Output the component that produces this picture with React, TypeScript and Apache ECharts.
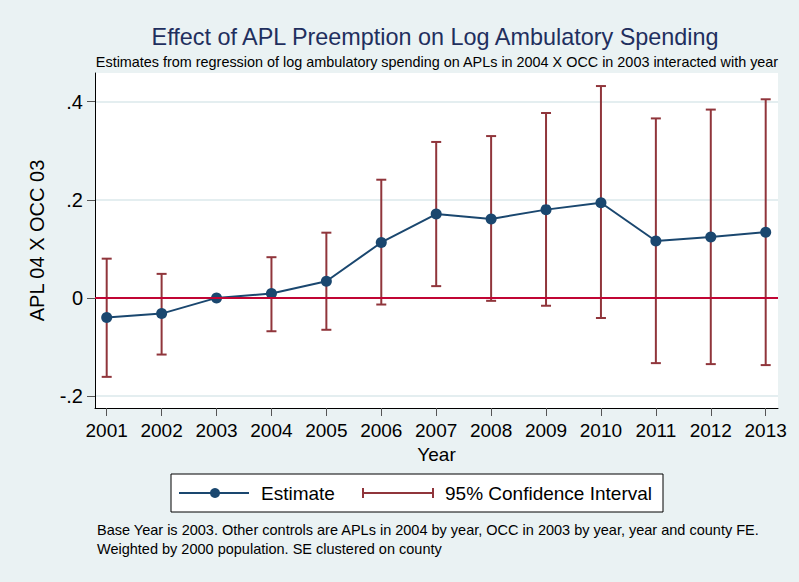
import React, { useEffect, useRef } from "react";
import * as echarts from "echarts";

const years = [2001, 2002, 2003, 2004, 2005, 2006, 2007, 2008, 2009, 2010, 2011, 2012, 2013];
const estimate = [-0.04, -0.032, 0, 0.009, 0.034, 0.113, 0.171, 0.161, 0.18, 0.194, 0.116, 0.124, 0.134];
const ciLow = [-0.161, -0.1155, null, -0.068, -0.065, -0.0135, 0.024, -0.006, -0.016, -0.041, -0.133, -0.135, -0.137];
const ciHigh = [0.08, 0.049, null, 0.083, 0.133, 0.241, 0.318, 0.33, 0.377, 0.432, 0.366, 0.384, 0.405];
const yTicks = [-0.2, 0, 0.2, 0.4];

const FONT = '"Liberation Sans", Arial, sans-serif';
const NAVY = "#1a476f";
const MAROON = "#90353b";
const RED = "#c10534";
const BG = "#eaf2f3";

export default function App() {
  const ref = useRef<HTMLDivElement>(null);
  useEffect(() => {
    if (!ref.current) return;
    const chart = echarts.init(ref.current, null, { renderer: "svg" });
    const ciData = years
      .map((y, i) => [y, ciLow[i], ciHigh[i]])
      .filter((d) => d[1] !== null && d[2] !== null);

    const txt = (text: string, x: number, y: number, size: number, color: string, align = "left", extra: any = {}) => ({
      type: "text",
      x,
      y,
      silent: true,
      ...extra,
      style: {
        text,
        fill: color,
        fontSize: size,
        fontFamily: FONT,
        align,
        textAlign: align,
        verticalAlign: "middle",
        textVerticalAlign: "middle",
      },
    });

    chart.setOption({
      animation: false,
      backgroundColor: BG,
      grid: {
        left: 95,
        right: 21,
        top: 73,
        bottom: 174,
        show: true,
        backgroundColor: "#ffffff",
        borderWidth: 0,
      },
      xAxis: {
        type: "value",
        min: 2000.787,
        max: 2013.224,
        name: "Year",
        nameLocation: "middle",
        nameGap: 31,
        nameTextStyle: { fontSize: 19, color: "#000", fontFamily: FONT },
        axisLine: { show: true, onZero: false, lineStyle: { color: "#000", width: 1 } },
        axisTick: { show: true, length: 8, customValues: years, lineStyle: { color: "#555", width: 1 } },
        axisLabel: { customValues: years, margin: 13, fontSize: 19, color: "#000", fontFamily: FONT, formatter: (v: number) => String(v) },
        splitLine: { show: false },
      },
      yAxis: {
        type: "value",
        min: -0.2245,
        max: 0.4586,
        name: "APL 04 X OCC 03",
        nameLocation: "middle",
        nameGap: 48,
        nameTextStyle: { fontSize: 20, color: "#000", fontFamily: FONT },
        axisLine: { show: true, lineStyle: { color: "#000", width: 1 } },
        axisTick: { show: true, length: 8, customValues: yTicks, lineStyle: { color: "#555", width: 1 } },
        axisLabel: {
          customValues: yTicks,
          margin: 12,
          fontSize: 20,
          color: "#000",
          fontFamily: FONT,
          formatter: (v: number) => {
            if (Math.abs(v) < 1e-9) return "0";
            const s = String(Math.round(Math.abs(v) * 10) / 10).replace(/^0/, "");
            return (v < 0 ? "-" : "") + s;
          },
        },
        splitLine: { show: true, lineStyle: { color: "#e4eef0", width: 2 } },
      },
      series: [
        {
          type: "custom",
          name: "95% Confidence Interval",
          z: 2,
          encode: { x: 0, y: [1, 2] },
          data: ciData,
          renderItem: (params: any, api: any) => {
            const x = api.value(0);
            const lo = api.coord([x, api.value(1)]);
            const hi = api.coord([x, api.value(2)]);
            const half = 5;
            const st = { stroke: MAROON, lineWidth: 2 };
            return {
              type: "group",
              children: [
                { type: "line", shape: { x1: lo[0], y1: lo[1], x2: hi[0], y2: hi[1] }, style: st },
                { type: "line", shape: { x1: lo[0] - half, y1: lo[1], x2: lo[0] + half, y2: lo[1] }, style: st },
                { type: "line", shape: { x1: hi[0] - half, y1: hi[1], x2: hi[0] + half, y2: hi[1] }, style: st },
              ],
            };
          },
        },
        {
          type: "line",
          name: "zero",
          z: 3,
          data: [],
          markLine: {
            silent: true,
            symbol: "none",
            label: { show: false },
            lineStyle: { color: RED, width: 2, type: "solid" },
            data: [{ yAxis: 0 }],
          },
        },
        {
          type: "line",
          name: "Estimate",
          z: 4,
          data: years.map((y, i) => [y, estimate[i]]),
          symbol: "circle",
          symbolSize: 11,
          showSymbol: true,
          lineStyle: { color: NAVY, width: 2 },
          itemStyle: { color: NAVY },
        },
      ],
      graphic: [
        txt("Effect of APL Preemption on Log Ambulatory Spending", 435, 37, 23.4, "#1f2f5e", "center"),
        txt("Estimates from regression of log ambulatory spending on APLs in 2004 X OCC in 2003 interacted with year", 437, 62, 14.4, "#000", "center"),
        {
          type: "rect",
          shape: { x: 171, y: 474, width: 492, height: 38 },
          style: { fill: "#ffffff", stroke: "#000", lineWidth: 1 },
          silent: true,
        },
        { type: "line", shape: { x1: 179, y1: 493, x2: 249, y2: 493 }, style: { stroke: NAVY, lineWidth: 2 }, silent: true },
        { type: "circle", shape: { cx: 215, cy: 493, r: 5 }, style: { fill: NAVY }, silent: true },
        txt("Estimate", 261, 493, 19, "#000"),
        { type: "line", shape: { x1: 363, y1: 493, x2: 433, y2: 493 }, style: { stroke: MAROON, lineWidth: 2 }, silent: true },
        { type: "line", shape: { x1: 363, y1: 488, x2: 363, y2: 498 }, style: { stroke: MAROON, lineWidth: 2 }, silent: true },
        { type: "line", shape: { x1: 433, y1: 488, x2: 433, y2: 498 }, style: { stroke: MAROON, lineWidth: 2 }, silent: true },
        txt("95% Confidence Interval", 445, 493, 19, "#000"),
        txt("Base Year is 2003. Other controls are APLs in 2004 by year, OCC in 2003 by year, year and county FE.", 97, 530, 14.5, "#000"),
        txt("Weighted by 2000 population. SE clustered on county", 97, 549, 14.5, "#000"),
      ],
    });
    return () => chart.dispose();
  }, []);
  return <div ref={ref} style={{ width: 799, height: 582, position: "absolute", left: 0, top: 0 }} />;
}
